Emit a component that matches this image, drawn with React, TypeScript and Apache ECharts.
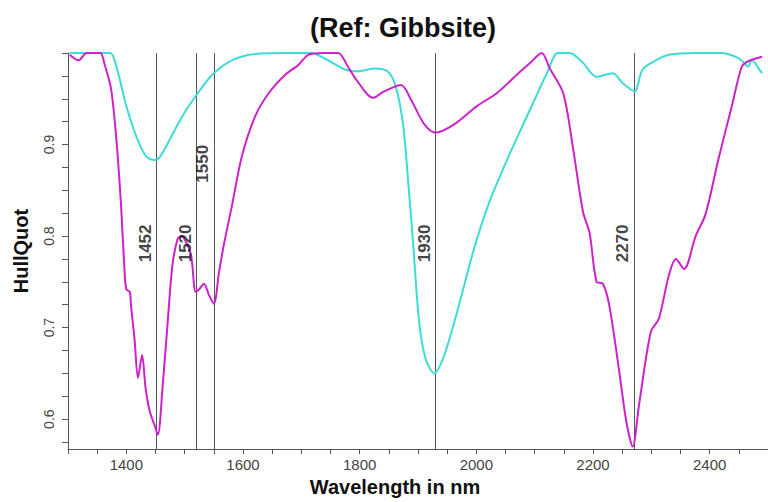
import React, { useEffect, useRef } from "react";
import * as echarts from "echarts";

// [wavelength nm, hull quotient]
const sampleSpectrum: [number, number][] = [
  [1303, 0.998], [1318, 0.992], [1332, 1.0], [1355, 1.0], [1363, 0.987], [1374, 0.96],
  [1383, 0.905], [1391, 0.833], [1397, 0.761], [1400, 0.742], [1406, 0.739], [1408, 0.724],
  [1414, 0.688], [1420, 0.645], [1427, 0.67], [1433, 0.634], [1440, 0.609], [1448, 0.594],
  [1454, 0.583], [1462, 0.634], [1471, 0.707], [1479, 0.768], [1488, 0.797], [1494, 0.8],
  [1502, 0.794], [1511, 0.779], [1519, 0.739], [1525, 0.742], [1533, 0.748], [1542, 0.735],
  [1550, 0.726], [1559, 0.761], [1567, 0.79], [1581, 0.833], [1598, 0.887], [1621, 0.931],
  [1644, 0.956], [1672, 0.976], [1695, 0.987], [1712, 0.998], [1738, 1.0], [1763, 1.0],
  [1780, 0.985], [1794, 0.971], [1823, 0.951], [1842, 0.958], [1871, 0.965], [1888, 0.949],
  [1911, 0.922], [1930, 0.913], [1962, 0.922], [2001, 0.942], [2035, 0.956], [2069, 0.976],
  [2092, 0.989], [2112, 1.0], [2126, 0.983], [2149, 0.956], [2166, 0.895], [2183, 0.826],
  [2194, 0.804], [2206, 0.75], [2217, 0.748], [2228, 0.724], [2245, 0.652], [2257, 0.598],
  [2268, 0.57], [2279, 0.616], [2299, 0.695], [2313, 0.71], [2330, 0.757], [2342, 0.775],
  [2356, 0.764], [2376, 0.8], [2393, 0.824], [2415, 0.884], [2438, 0.942], [2455, 0.985],
  [2466, 0.991], [2490, 0.996],
];

const referenceSpectrum: [number, number][] = [
  [1303, 1.0], [1372, 1.0], [1383, 0.985], [1400, 0.942], [1417, 0.909], [1434, 0.887],
  [1448, 0.883], [1457, 0.886], [1474, 0.905], [1496, 0.931], [1519, 0.953], [1547, 0.976],
  [1581, 0.992], [1621, 0.999], [1678, 1.0], [1717, 1.0], [1740, 0.994], [1775, 0.982],
  [1797, 0.98], [1826, 0.983], [1848, 0.98], [1862, 0.963], [1874, 0.924], [1882, 0.869],
  [1891, 0.797], [1902, 0.706], [1913, 0.666], [1928, 0.65], [1945, 0.67], [1967, 0.717],
  [1996, 0.786], [2024, 0.84], [2058, 0.891], [2092, 0.938], [2121, 0.978], [2140, 1.0],
  [2160, 1.0], [2183, 0.989], [2206, 0.974], [2234, 0.978], [2251, 0.967], [2271, 0.958],
  [2285, 0.982], [2308, 0.992], [2330, 0.998], [2376, 1.0], [2421, 1.0], [2440, 0.997],
  [2450, 0.994], [2458, 0.99], [2466, 0.985], [2472, 0.992], [2478, 0.989], [2484, 0.983],
  [2490, 0.978],
];

const peakLines = [1452, 1520, 1550, 1930, 2270];
const peakLabelLevels = [0.792, 0.792, 0.879, 0.792, 0.792];

const xTickValues = [
  1300, 1350, 1400, 1450, 1500, 1550, 1600, 1650, 1700, 1750, 1800, 1850, 1900, 1950,
  2000, 2050, 2100, 2150, 2200, 2250, 2300, 2350, 2400, 2450,
];
const xLabelValues = [1400, 1600, 1800, 2000, 2200, 2400];
const yTickValues = [
  0.575, 0.6, 0.625, 0.65, 0.675, 0.7, 0.725, 0.75, 0.775, 0.8, 0.825, 0.85, 0.875, 0.9,
  0.925, 0.95, 0.975, 1.0,
];
const yLabelValues = [0.6, 0.7, 0.8, 0.9];

const FONT = "'Liberation Sans', Arial, Helvetica, sans-serif";

export default function App() {
  const ref = useRef<HTMLDivElement>(null);
  useEffect(() => {
    if (!ref.current) return;
    const chart = echarts.init(ref.current, undefined, { renderer: "svg" });
    chart.setOption({
      animation: false,
      backgroundColor: "#ffffff",
      textStyle: { fontFamily: FONT },
      title: {
        text: "(Ref: Gibbsite)",
        left: 310,
        top: 14,
        padding: 0,
        textStyle: { fontSize: 27, fontWeight: "bold", color: "#111", fontFamily: FONT },
      },
      grid: { left: 68, right: -5, top: 53, bottom: 51, containLabel: false },
      xAxis: {
        type: "value",
        min: 1300,
        max: 2500,
        axisLine: { show: true, lineStyle: { color: "#555", width: 1 } },
        axisTick: { show: true, length: 5, lineStyle: { color: "#555" }, customValues: xTickValues },
        axisLabel: {
          customValues: xLabelValues,
          fontSize: 15,
          color: "#444",
          margin: 8,
          fontFamily: FONT,
          formatter: (v: number) => String(v),
        },
        splitLine: { show: false },
        name: "Wavelength in nm",
        nameLocation: "middle",
        nameGap: 28,
        nameTextStyle: { fontSize: 20, fontWeight: "bold", color: "#111", padding: [0, 46, 0, 0], fontFamily: FONT },
      },
      yAxis: {
        type: "value",
        min: 0.5674,
        max: 1.0,
        axisLine: { show: true, lineStyle: { color: "#555", width: 1 } },
        axisTick: { show: true, length: 6, lineStyle: { color: "#555" }, customValues: yTickValues },
        axisLabel: {
          customValues: yLabelValues,
          rotate: 90,
          fontSize: 14,
          color: "#444",
          margin: 12,
          fontFamily: FONT,
          formatter: (v: number) => v.toFixed(1),
        },
        splitLine: { show: false },
        name: "HullQuot",
        nameLocation: "middle",
        nameGap: 37,
        nameTextStyle: { fontSize: 20, fontWeight: "bold", color: "#111", fontFamily: FONT },
      },
      series: [
        {
          type: "line",
          data: referenceSpectrum,
          showSymbol: false,
          smooth: 0.3,
          lineStyle: { color: "#3ddcd6", width: 2 },
          z: 2,
        },
        {
          type: "line",
          data: sampleSpectrum,
          showSymbol: false,
          smooth: 0.3,
          lineStyle: { color: "#cc22cc", width: 2 },
          z: 3,
          markLine: {
            silent: true,
            symbol: ["none", "none"],
            label: { show: false },
            lineStyle: { color: "#555", width: 1, type: "solid" },
            data: peakLines.map((v) => ({ xAxis: v })),
            z: 1,
          },
        },
        {
          type: "scatter",
          symbolSize: 0,
          silent: true,
          data: peakLines.map((v, i) => ({ value: [v, peakLabelLevels[i]], name: String(v) })),
          label: {
            show: true,
            formatter: "{b}",
            position: "inside",
            rotate: 90,
            offset: [0, -11],
            fontSize: 17,
            fontWeight: "bold",
            color: "#111",
            fontFamily: FONT,
          },
          z: 5,
        },
      ],
    });
    return () => chart.dispose();
  }, []);
  return (
    <div
      ref={ref}
      style={{ position: "fixed", left: 0, top: 0, width: 768, height: 502, background: "#fff" }}
    />
  );
}
